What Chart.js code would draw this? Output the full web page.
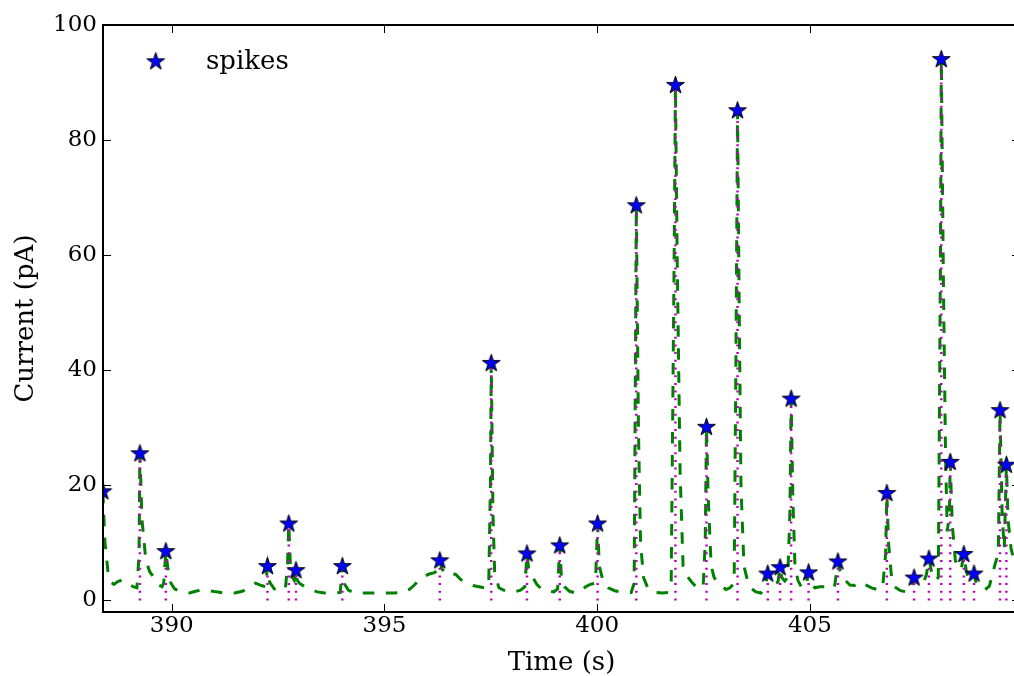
<!DOCTYPE html>
<html>
<head>
<meta charset="utf-8">
<script src="https://cdn.jsdelivr.net/npm/chart.js@4.4.1/dist/chart.umd.min.js"></script>
<style>
html, body { margin: 0; padding: 0; overflow: hidden; background: #fff; width: 1014px; height: 676px; }
#wrap { width: 1030px; height: 676px; }
</style>
</head>
<body>
<div id="wrap"><canvas id="c" width="1030" height="676"></canvas></div>
<script>
// ---- data ----
const xTicks = [390, 395, 400, 405];
const yTicks = [0, 20, 40, 60, 80, 100];

// detected spikes (time in s, current in pA)
const spikeT = [388.38, 389.25, 389.86, 392.25, 392.75, 392.92, 394.01, 396.30, 397.51, 398.35,
                399.12, 400.01, 400.92, 401.84, 402.57, 403.30, 404.01, 404.30, 404.56, 404.97,
                405.66, 406.81, 407.45, 407.80, 408.09, 408.30, 408.62, 408.86, 409.47, 409.62];
const spikeV = [18.9, 25.5, 8.5, 5.9, 13.3, 5.2, 5.9, 6.9, 41.2, 8.1,
                9.5, 13.3, 68.6, 89.5, 30.1, 85.1, 4.6, 5.7, 35.0, 4.8,
                6.7, 18.6, 3.9, 7.2, 94.0, 24.0, 8.0, 4.6, 33.0, 23.5];

// recorded current trace
const traceT = [388.36, 388.38, 388.43, 388.50, 388.57, 388.64, 388.73, 388.85, 388.97, 389.09,
                389.18, 389.23, 389.25, 389.30, 389.39, 389.48, 389.58, 389.67, 389.77, 389.81,
                389.86, 389.91, 389.98, 390.07, 390.23, 390.42, 390.56, 390.73, 390.89, 391.05,
                391.24, 391.48, 391.66, 391.83, 391.97, 392.11, 392.20, 392.25, 392.30, 392.41,
                392.53, 392.67, 392.72, 392.75, 392.79, 392.84, 392.88, 392.92, 392.95, 393.00,
                393.12, 393.26, 393.42, 393.59, 393.82, 393.96, 394.01, 394.05, 394.15, 394.29,
                394.52, 394.76, 394.99, 395.23, 395.46, 395.58, 395.69, 395.81, 395.93, 396.05,
                396.16, 396.26, 396.30, 396.35, 396.44, 396.56, 396.68, 396.80, 396.94, 397.08,
                397.22, 397.36, 397.45, 397.49, 397.51, 397.55, 397.59, 397.69, 397.80, 397.92,
                398.06, 398.20, 398.30, 398.35, 398.39, 398.48, 398.58, 398.69, 398.84, 398.98,
                399.07, 399.12, 399.16, 399.23, 399.35, 399.49, 399.61, 399.73, 399.84, 399.96,
                400.01, 400.05, 400.15, 400.26, 400.41, 400.55, 400.69, 400.80, 400.87, 400.92,
                400.97, 401.02, 401.09, 401.20, 401.37, 401.53, 401.67, 401.74, 401.81, 401.84,
                401.88, 401.95, 402.02, 402.12, 402.21, 402.30, 402.40, 402.49, 402.54, 402.57,
                402.61, 402.68, 402.75, 402.84, 402.94, 403.03, 403.12, 403.22, 403.26, 403.30,
                403.34, 403.38, 403.45, 403.55, 403.64, 403.73, 403.85, 403.92, 403.97, 404.01,
                404.06, 404.15, 404.25, 404.30, 404.34, 404.41, 404.48, 404.53, 404.56, 404.60,
                404.65, 404.72, 404.81, 404.91, 404.97, 405.02, 405.12, 405.23, 405.35, 405.47,
                405.58, 405.66, 405.73, 405.82, 405.94, 406.05, 406.19, 406.31, 406.45, 406.59,
                406.71, 406.78, 406.81, 406.85, 406.92, 406.99, 407.13, 407.27, 407.39, 407.45,
                407.51, 407.60, 407.69, 407.74, 407.80, 407.86, 407.95, 408.02, 408.07, 408.09,
                408.14, 408.19, 408.23, 408.28, 408.30, 408.35, 408.42, 408.49, 408.56, 408.62,
                408.68, 408.75, 408.82, 408.86, 408.91, 409.01, 409.12, 409.22, 409.29, 409.36,
                409.43, 409.47, 409.52, 409.57, 409.62, 409.66, 409.73, 409.87, 410.11];
const traceV = [19.5, 18.9, 10.0, 5.0, 3.2, 2.8, 3.3, 3.6, 3.0, 2.4,
                2.2, 8.0, 25.5, 14.0, 7.0, 5.0, 4.0, 2.8, 2.4, 3.0,
                8.5, 5.5, 3.0, 2.0, 1.5, 1.3, 1.6, 1.9, 1.7, 1.5,
                1.3, 1.3, 1.6, 2.3, 3.0, 2.6, 2.4, 5.9, 3.2, 2.0,
                1.8, 2.0, 6.0, 13.3, 6.0, 4.0, 3.5, 5.2, 3.5, 3.0,
                2.4, 1.9, 1.5, 1.3, 1.3, 1.4, 5.9, 3.0, 1.8, 1.3,
                1.3, 1.3, 1.3, 1.3, 1.4, 1.9, 2.6, 3.5, 4.2, 4.6,
                4.8, 5.2, 6.9, 5.5, 4.6, 4.8, 4.5, 3.6, 3.0, 2.6,
                2.4, 2.2, 2.4, 20.0, 41.2, 15.0, 5.0, 2.2, 1.8, 1.5,
                1.5, 1.8, 2.4, 8.1, 5.5, 4.1, 2.8, 2.0, 1.6, 1.5,
                2.0, 9.5, 4.0, 2.4, 1.6, 1.3, 1.6, 2.4, 2.8, 3.0,
                13.3, 6.0, 3.0, 2.2, 1.7, 1.5, 1.4, 1.4, 3.0, 68.6,
                30.0, 10.0, 4.0, 2.0, 1.4, 1.3, 1.4, 3.0, 60.0, 89.5,
                60.0, 22.0, 6.0, 4.2, 3.3, 2.6, 2.2, 2.2, 10.0, 30.1,
                18.0, 6.0, 4.0, 3.1, 2.4, 1.9, 2.2, 3.0, 40.0, 85.1,
                50.0, 20.0, 6.0, 3.0, 2.0, 1.5, 1.3, 2.0, 3.0, 4.6,
                3.2, 2.8, 3.2, 5.7, 4.0, 3.4, 4.0, 15.0, 35.0, 18.0,
                6.0, 3.5, 2.2, 2.5, 4.8, 3.0, 2.2, 2.4, 2.4, 2.0,
                2.4, 6.7, 4.5, 3.6, 2.7, 2.6, 3.2, 2.7, 2.2, 1.9,
                2.2, 8.0, 18.6, 10.0, 4.0, 2.4, 1.7, 1.5, 1.9, 3.9,
                2.8, 3.1, 3.5, 4.5, 7.2, 5.0, 3.5, 4.0, 60.0, 94.0,
                55.0, 25.0, 12.0, 15.0, 24.0, 13.0, 7.0, 5.5, 5.5, 8.0,
                5.0, 3.6, 3.5, 4.6, 3.0, 2.4, 1.9, 2.5, 4.5, 6.5,
                8.0, 33.0, 15.0, 9.0, 23.5, 14.0, 9.0, 5.0, 3.0];

const seriesLabel = 'spikes';
const xTitle = 'Time (s)';
const yTitle = 'Current (pA)';

// ---- star marker ----
function makeStar(R) {
  const c = document.createElement('canvas');
  const s = Math.ceil(2 * R + 4);
  c.width = s; c.height = s;
  const g = c.getContext('2d');
  const cx = s / 2, cy = s / 2, r = R * 0.382;
  g.beginPath();
  for (let i = 0; i < 10; i++) {
    const rad = (i % 2 === 0) ? R : r;
    const a = -Math.PI / 2 + i * Math.PI / 5;
    const px = cx + rad * Math.cos(a), py = cy + rad * Math.sin(a);
    if (i === 0) g.moveTo(px, py); else g.lineTo(px, py);
  }
  g.closePath();
  g.fillStyle = '#0000ff';
  g.fill();
  g.lineWidth = 1;
  g.strokeStyle = '#000000';
  g.stroke();
  return c;
}
const starImg = makeStar(9.3);

const traceData = traceT.map((t, i) => ({ x: t, y: traceV[i] }));
const vlineData = [];
spikeT.forEach((t, i) => {
  vlineData.push({ x: t, y: 0 });
  vlineData.push({ x: t, y: spikeV[i] });
  vlineData.push({ x: t, y: null });
});
const starData = spikeT.map((t, i) => ({ x: t, y: spikeV[i] }));

const FONT = "'DejaVu Serif', 'Liberation Serif', serif";

const framePlugin = {
  id: 'frame',
  afterDraw(chart) {
    const { ctx, chartArea: a, scales } = chart;
    ctx.save();
    ctx.strokeStyle = '#000';
    ctx.lineWidth = 1;
    xTicks.forEach(v => {
      const p = Math.round(scales.x.getPixelForValue(v)) + 0.5;
      ctx.beginPath();
      ctx.moveTo(p, a.bottom); ctx.lineTo(p, a.bottom - 8);
      ctx.moveTo(p, a.top); ctx.lineTo(p, a.top + 8);
      ctx.stroke();
    });
    yTicks.forEach(v => {
      const p = Math.round(scales.y.getPixelForValue(v)) + 0.5;
      ctx.beginPath();
      ctx.moveTo(a.left, p); ctx.lineTo(a.left + 8, p);
      ctx.moveTo(a.right, p); ctx.lineTo(a.right - 8, p);
      ctx.stroke();
    });
    ctx.lineWidth = 2;
    ctx.strokeRect(a.left, a.top, a.right - a.left, a.bottom - a.top);
    // legend
    ctx.drawImage(starImg, 155.7 - starImg.width / 2, 61.7 - starImg.height / 2);
    ctx.fillStyle = '#000';
    ctx.font = "26px " + FONT;
    ctx.textAlign = 'left';
    ctx.textBaseline = 'middle';
    ctx.fillText(seriesLabel, 206, 62);
    ctx.restore();
  }
};

new Chart(document.getElementById('c'), {
  type: 'scatter',
  data: {
    datasets: [
      {
        label: 'trace', data: traceData, showLine: true, borderColor: '#008000',
        borderWidth: 3, borderDash: [11.5, 11.5], pointRadius: 0, pointHoverRadius: 0,
        tension: 0, clip: 0, order: 2
      },
      {
        label: 'vlines', data: vlineData, showLine: true, spanGaps: false, borderColor: '#bf00bf',
        borderWidth: 2.5, borderDash: [2, 5.7], pointRadius: 0, pointHoverRadius: 0,
        clip: 0, order: 1
      },
      {
        label: seriesLabel, data: starData, showLine: false, pointStyle: starImg,
        pointRadius: 9, pointHoverRadius: 9, clip: 0, order: 0
      }
    ]
  },
  options: {
    responsive: false,
    animation: false,
    devicePixelRatio: 1,
    events: [],
    layout: { padding: { left: 0, top: 25, right: 7, bottom: 0 } },
    plugins: { legend: { display: false }, tooltip: { enabled: false } },
    scales: {
      x: {
        type: 'linear', position: 'bottom', min: 388.383, max: 409.94,
        afterBuildTicks: s => { s.ticks = xTicks.map(v => ({ value: v })); },
        afterFit: s => { s.height = 64; },
        grid: { display: false, drawTicks: false },
        border: { display: false },
        ticks: { color: '#000', padding: 3, font: { family: FONT, size: 23, lineHeight: 1 }, maxRotation: 0 },
        title: { display: true, text: xTitle, color: '#000', font: { family: FONT, size: 26, lineHeight: 1 }, padding: { top: 0, bottom: 0 } }
      },
      y: {
        type: 'linear', min: -2, max: 100,
        afterBuildTicks: s => { s.ticks = yTicks.map(v => ({ value: v })); },
        afterFit: s => { s.width = 103; },
        grid: { display: false, drawTicks: false },
        border: { display: false },
        ticks: { color: '#000', padding: 6, font: { family: FONT, size: 23, lineHeight: 1 } },
        title: { display: true, text: yTitle, color: '#000', font: { family: FONT, size: 26, lineHeight: 1 }, padding: { top: 13, bottom: 0 } }
      }
    }
  },
  plugins: [framePlugin]
});
</script>
</body>
</html>
